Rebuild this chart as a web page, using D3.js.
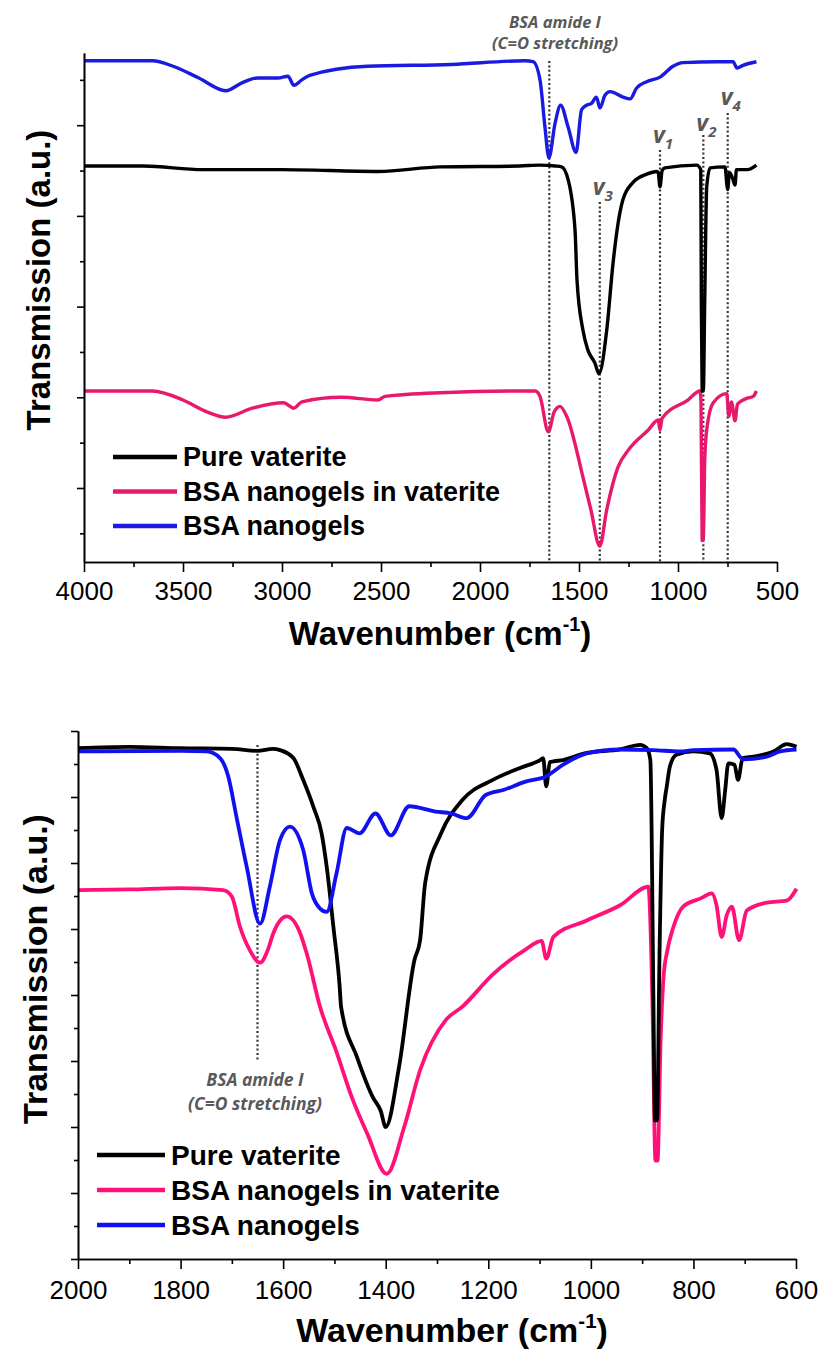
<!DOCTYPE html>
<html>
<head>
<meta charset="utf-8">
<script src="https://cdn.jsdelivr.net/npm/d3@7"></script>
<style>
  body { margin: 0; background: #fff; }
  svg { display: block; }
</style>
</head>
<body>
<div id="chart"></div>
<script>
const width = 823;
const height = 1353;

// ---- data: [wavenumber (cm-1), transmission (a.u., offset)] ----
// top panel, 4000-600 cm-1
const topVaterite = [[4000,4.55],[3700,4.55],[3400,4.51],[3000,4.51],[2515,4.49],[2200,4.54],[1800,4.55],[1700,4.56],
  [1620,4.55],[1588,4.54],[1555,4.40],[1520,3.84],[1510,3.29],[1480,2.74],[1455,2.52],[1420,2.38],[1399,2.26],
  [1360,2.74],[1328,3.48],[1308,3.84],[1278,4.18],[1227,4.37],[1158,4.46],[1107,4.49],[1100,4.48],[1091,4.32],
  [1080,4.50],[1066,4.53],[906,4.56],[885,4.51],[882,3.0],[878,2.07],[872,2.07],[865,3.07],[855,4.32],[838,4.53],
  [763,4.54],[749,4.29],[740,4.48],[722,4.40],[712,4.34],[705,4.51],[650,4.51],[604,4.56]];
const topNanogelVaterite = [[4000,2.07],[3655,2.07],[3500,1.97],[3380,1.84],[3284,1.78],[3150,1.88],[2993,1.94],
  [2940,1.88],[2900,1.95],[2700,2.00],[2515,1.97],[2480,2.01],[2200,2.05],[1733,2.07],[1722,2.07],[1697,2.01],
  [1655,1.62],[1625,1.84],[1596,1.90],[1562,1.79],[1480,1.12],[1440,0.76],[1395,0.36],[1360,0.76],[1303,1.23],
  [1250,1.42],[1150,1.64],[1100,1.75],[1091,1.64],[1080,1.77],[950,1.97],[889,2.07],[884,1.97],[878,0.42],
  [872,0.43],[865,1.31],[855,1.64],[822,1.94],[754,2.04],[743,1.79],[730,1.95],[712,1.74],[700,1.92],[686,1.95],
  [650,1.99],[620,2.01],[604,2.07]];
const topNanogel = [[4000,5.71],[3655,5.71],[3550,5.65],[3420,5.52],[3284,5.38],[3200,5.47],[3125,5.52],[3020,5.52],
  [2970,5.54],[2940,5.44],[2900,5.50],[2860,5.55],[2568,5.65],[2145,5.67],[1773,5.71],[1732,5.70],[1697,5.50],
  [1672,4.98],[1652,4.64],[1621,5.02],[1593,5.22],[1555,4.98],[1515,4.70],[1487,5.17],[1462,5.22],[1437,5.24],
  [1412,5.31],[1394,5.19],[1369,5.33],[1343,5.37],[1278,5.31],[1242,5.29],[1209,5.41],[1158,5.48],[1091,5.53],
  [1025,5.65],[975,5.69],[800,5.70],[722,5.70],[702,5.63],[672,5.66],[604,5.70]];

// bottom panel, 2000-600 cm-1
const botVaterite = [[2000,7.74],[1900,7.76],[1800,7.74],[1700,7.73],[1650,7.70],[1620,7.73],[1606,7.71],[1580,7.59],
  [1561,7.26],[1541,6.85],[1525,6.45],[1515,5.94],[1502,5.03],[1490,4.15],[1487,3.82],[1456,3.06],[1425,2.45],
  [1410,2.25],[1400,2.00],[1374,2.91],[1344,4.53],[1333,4.83],[1323,5.70],[1292,6.45],[1251,6.95],[1191,7.26],
  [1138,7.44],[1099,7.56],[1093,7.59],[1087,7.16],[1080,7.53],[1073,7.54],[1054,7.56],[1008,7.67],[943,7.72],
  [904,7.79],[891,7.74],[884,7.56],[878,3.92],[875,2.10],[871,2.10],[866,4.68],[861,6.50],[856,6.95],[852,7.16],
  [846,7.46],[833,7.64],[800,7.69],[768,7.66],[755,7.41],[745,6.68],[738,7.11],[732,7.51],[720,7.49],[713,7.26],
  [704,7.59],[683,7.61],[644,7.69],[618,7.80],[599,7.76]];
const botNanogelVaterite = [[2000,5.59],[1900,5.60],[1800,5.62],[1717,5.59],[1700,5.49],[1684,5.03],[1665,4.68],
  [1645,4.49],[1630,4.68],[1619,4.94],[1593,5.19],[1567,4.94],[1554,4.63],[1528,3.82],[1497,3.16],[1466,2.45],
  [1436,1.90],[1398,1.29],[1364,2.00],[1333,2.86],[1283,3.62],[1251,3.82],[1190,4.32],[1129,4.68],[1096,4.82],
  [1087,4.55],[1073,4.88],[1008,5.13],[943,5.36],[888,5.64],[880,3.92],[874,1.49],[870,1.49],[864,3.31],[858,4.30],
  [852,4.63],[839,5.03],[820,5.34],[787,5.46],[764,5.54],[755,5.36],[745,4.88],[735,5.21],[725,5.34],[711,4.83],
  [696,5.28],[657,5.40],[618,5.43],[599,5.61]];
const botNanogel = [[2000,7.69],[1800,7.70],[1749,7.69],[1723,7.59],[1707,7.31],[1691,6.70],[1671,5.94],[1645,5.08],
  [1626,5.64],[1606,6.35],[1587,6.55],[1561,6.20],[1544,5.54],[1528,5.31],[1515,5.26],[1496,5.84],[1476,6.53],
  [1451,6.45],[1420,6.75],[1390,6.42],[1354,6.86],[1303,6.78],[1272,6.75],[1242,6.68],[1205,7.03],[1169,7.11],
  [1129,7.23],[1088,7.31],[1054,7.49],[1008,7.66],[943,7.72],[878,7.71],[826,7.69],[800,7.71],[722,7.72],
  [703,7.57],[657,7.61],[631,7.69],[599,7.72]];

const seriesNames = ["Pure vaterite", "BSA nanogels in vaterite", "BSA nanogels"];
const topColors = ["#000000", "#e8186c", "#1a1ae0"];
const botColors = ["#000000", "#ff1178", "#1010f0"];

const topXTicks = [4000, 3500, 3000, 2500, 2000, 1500, 1000, 500];
const topXMinor = [3750, 3250, 2750, 2250, 1750, 1250, 750];
const botXTicks = [2000, 1800, 1600, 1400, 1200, 1000, 800, 600];
const botXMinor = [1900, 1700, 1500, 1300, 1100, 900, 700];

// band markers (wavenumber, subscript of v)
const bandWn = [1395, 1091, 872, 749];
const bandSub = ["3", "1", "2", "4"];
const amideWn = 1650;
const amideLines = ["BSA amide I", "(C=O stretching)"];

const svg = d3.select("#chart").append("svg")
  .attr("width", width)
  .attr("height", height)
  .style("background", "#fff");

const labelFont = "'Liberation Sans', Arial, sans-serif";
const noteFont = "'Open Sans', 'DejaVu Sans', sans-serif";
const noteColor = "#595959";

function drawPanel(p) {
  const x = d3.scaleLinear().domain(p.xDomain).range([p.left, p.right]);
  const y = d3.scaleLinear().domain(p.yDomain).range([p.bottom, p.top]);
  const g = svg.append("g");

  // dotted marker lines
  p.markers.forEach(function (m) {
    g.append("line")
      .attr("x1", x(m.wn)).attr("x2", x(m.wn))
      .attr("y1", m.y1).attr("y2", m.y2)
      .attr("stroke", "#333")
      .attr("stroke-width", 2.2)
      .attr("stroke-dasharray", "2,2.4");
  });

  // spectra (drawn pink, black, blue)
  const line = d3.line()
    .x(d => x(d[0]))
    .y(d => y(d[1]))
    .curve(d3.curveMonotoneX);
  [1, 0, 2].forEach(function (i) {
    g.append("path")
      .datum(p.series[i].slice().reverse())
      .attr("fill", "none")
      .attr("stroke", p.colors[i])
      .attr("stroke-width", p.lineWidth)
      .attr("stroke-linejoin", "round")
      .attr("d", line);
  });

  // axes
  const xMajor = d3.axisBottom(x).tickValues(p.xTicks).tickSize(10).tickSizeOuter(0)
    .tickPadding(p.xPad).tickFormat(d3.format("d"));
  const xMinor = d3.axisBottom(x).tickValues(p.xMinor).tickSize(5).tickSizeOuter(0).tickFormat("");
  const yMajor = d3.axisLeft(y).tickValues(p.yTicks).tickSize(7).tickSizeOuter(0).tickFormat("");
  const yMinor = d3.axisLeft(y).tickValues(p.yMinor).tickSize(4).tickSizeOuter(0).tickFormat("");

  [[xMajor, "x"], [xMinor, "x"], [yMajor, "y"], [yMinor, "y"]].forEach(function (a) {
    const ag = g.append("g")
      .attr("transform", a[1] === "x" ? "translate(0," + p.bottom + ")" : "translate(" + p.left + ",0)")
      .call(a[0]);
    ag.select(".domain").attr("stroke", "#000").attr("stroke-width", 1.6);
    ag.selectAll(".tick line").attr("stroke", "#000").attr("stroke-width", 1.6);
    ag.selectAll(".tick text")
      .style("font-family", labelFont)
      .style("font-size", p.tickFont + "px")
      .attr("fill", "#000");
  });

  // axis titles
  const xt = g.append("text")
    .attr("x", p.xTitleX).attr("y", p.xTitleY)
    .attr("text-anchor", "middle")
    .style("font-family", labelFont)
    .style("font-weight", "bold")
    .style("font-size", p.titleFont + "px");
  xt.append("tspan").text("Wavenumber (cm");
  xt.append("tspan").attr("dy", -p.titleFont * 0.42).style("font-size", (p.titleFont * 0.6) + "px").text("-1");
  xt.append("tspan").attr("dy", p.titleFont * 0.42).text(")");

  g.append("text")
    .attr("transform", "translate(" + p.yTitleX + "," + p.yTitleY + ") rotate(-90)")
    .attr("text-anchor", "middle")
    .style("font-family", labelFont)
    .style("font-weight", "bold")
    .style("font-size", p.titleFont + "px")
    .text("Transmission (a.u.)");

  // legend
  seriesNames.forEach(function (name, i) {
    const ly = p.legendY + i * p.legendStep;
    g.append("line")
      .attr("x1", p.legendX1).attr("x2", p.legendX2)
      .attr("y1", ly).attr("y2", ly)
      .attr("stroke", p.colors[i])
      .attr("stroke-width", 4.5);
    g.append("text")
      .attr("x", p.legendX2 + 6).attr("y", ly + p.legendFont * 0.35)
      .style("font-family", labelFont)
      .style("font-weight", "bold")
      .style("font-size", p.legendFont + "px")
      .text(name);
  });

  // amide I note
  amideLines.forEach(function (t, i) {
    g.append("text")
      .attr("x", p.noteX).attr("y", p.noteY + i * p.noteStep)
      .attr("text-anchor", "middle")
      .style("font-family", noteFont)
      .style("font-weight", "bold")
      .style("font-style", "italic")
      .style("font-size", p.noteFont + "px")
      .attr("fill", noteColor)
      .text(t);
  });

  // v band labels
  (p.bands || []).forEach(function (b) {
    const t = g.append("text")
      .attr("x", x(b.wn) - 7).attr("y", b.y)
      .style("font-family", noteFont)
      .style("font-weight", "bold")
      .style("font-style", "italic")
      .style("font-size", "23px")
      .attr("fill", noteColor);
    t.append("tspan").text("v");
    t.append("tspan").attr("dy", 6).style("font-size", "15px").text(b.sub);
  });
}

// top panel
const bandTops = [202, 150, 135, 113];
const bandLabelY = [195, 143, 131, 105];
drawPanel({
  xDomain: [4000, 500], left: 84, right: 777,
  yDomain: [0.184, 5.796], bottom: 562, top: 53,
  series: [topVaterite, topNanogelVaterite, topNanogel],
  colors: topColors, lineWidth: 3.4,
  xTicks: topXTicks, xMinor: topXMinor,
  yTicks: [1, 2, 3, 4, 5], yMinor: [0.5, 1.5, 2.5, 3.5, 4.5, 5.5],
  xPad: 10, tickFont: 26,
  titleFont: 33, xTitleX: 440, xTitleY: 645, yTitleX: 50, yTitleY: 280,
  legendX1: 113, legendX2: 177, legendY: 457, legendStep: 34.5, legendFont: 27,
  noteX: 555, noteY: 28, noteStep: 21, noteFont: 16.5,
  markers: [{ wn: amideWn, y1: 61, y2: 562 }].concat(bandWn.map((w, i) => ({ wn: w, y1: bandTops[i], y2: 562 }))),
  bands: bandWn.map((w, i) => ({ wn: w, sub: bandSub[i], y: bandLabelY[i] }))
});

// bottom panel
drawPanel({
  xDomain: [2000, 600], left: 78, right: 796,
  yDomain: [0, 8], bottom: 1259, top: 731,
  series: [botVaterite, botNanogelVaterite, botNanogel],
  colors: botColors, lineWidth: 3.8,
  xTicks: botXTicks, xMinor: botXMinor,
  yTicks: [0, 1, 2, 3, 4, 5, 6, 7, 8], yMinor: [0.5, 1.5, 2.5, 3.5, 4.5, 5.5, 6.5, 7.5],
  xPad: 12, tickFont: 26,
  titleFont: 34, xTitleX: 452, xTitleY: 1342, yTitleX: 47, yTitleY: 969,
  legendX1: 97, legendX2: 165, legendY: 1155, legendStep: 35, legendFont: 28,
  noteX: 255, noteY: 1086, noteStep: 24, noteFont: 17.5,
  markers: [{ wn: amideWn, y1: 745, y2: 1061 }]
});
</script>
</body>
</html>
